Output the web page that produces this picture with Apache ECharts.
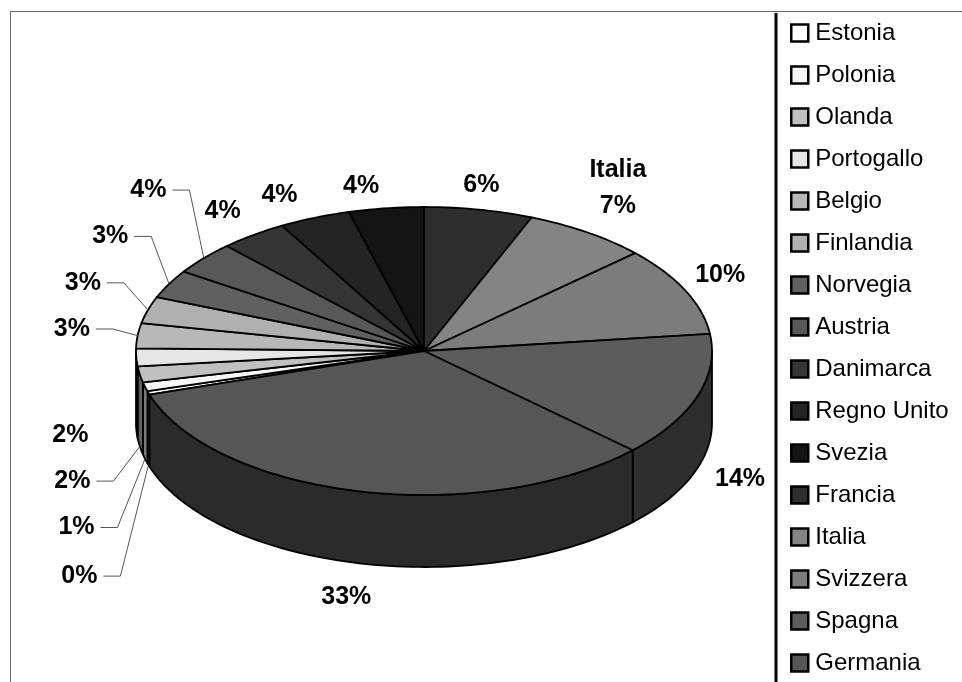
<!doctype html>
<html>
<head>
    <meta charset="UTF-8">
    <title>Ripartizione per paese</title>
    <script src="https://cdn.jsdelivr.net/npm/echarts@6/dist/echarts.min.js"></script>
    <style>
        html, body { margin: 0; padding: 0; background: #fff; }
    </style>
</head>
<body>
<div id="main" style="width: 962px;height:682px;"></div>
<script>
    // dati (quote in %)
    var countries = ['Estonia', 'Polonia', 'Olanda', 'Portogallo', 'Belgio', 'Finlandia', 'Norvegia', 'Austria',
        'Danimarca', 'Regno Unito', 'Svezia', 'Francia', 'Italia', 'Svizzera', 'Spagna', 'Germania'];
    var shares = [0.4, 1.0, 1.8, 2.0, 2.8, 3.0, 3.2, 3.7, 3.8, 4.0, 4.2, 6.1, 7.0, 10.0, 14.0, 33.0];

    // colori in scala di grigi (faccia superiore)
    var topColors = ['#ffffff', '#f6f6f6', '#c0c0c0', '#e6e6e6', '#b8b8b8', '#b0b0b0', '#606060', '#585858',
        '#353535', '#242424', '#141414', '#2e2e2e', '#848484', '#7c7c7c', '#5c5c5c', '#565656'];

    // aspetto 3D
    var cx = 424, cy = 351, rx = 288, ry = 144, depth = 72;
    var total = shares.reduce(function (a, b) { return a + b; }, 0);
    // Francia parte da ore 12
    var startAngle = -shares.slice(0, 11).reduce(function (a, b) { return a + b; }, 0) / total * 360;
    var cum = [];
    shares.reduce(function (acc, v, i) { cum[i] = acc; return acc + v; }, 0);

    // spostamenti delle etichette (come nel grafico Excel) e linee guida
    var labelNudge = [[-26, 101], [-25, 60], [-23, 29], [-21, 4], [-21, -4], [-22, -20], [-19, -36], [-21, -52],
        [-4, -4], [-18, 0], [-19, 3], [-6, 0], [5, -6], [-6, -5], [0, 0], [-3, 0]];
    var withLeader = ['Estonia', 'Polonia', 'Olanda', 'Belgio', 'Finlandia', 'Norvegia', 'Austria'];
    var withName = ['Italia'];

    function shade(hex, k) {
        var n = parseInt(hex.slice(1), 16);
        var r = Math.round(((n >> 16) & 255) * k), g = Math.round(((n >> 8) & 255) * k), b = Math.round((n & 255) * k);
        return 'rgb(' + r + ',' + g + ',' + b + ')';
    }
    function pt(deg, dy) {
        var a = deg * Math.PI / 180;
        return [cx + rx * Math.sin(a), cy - ry * Math.cos(a) + (dy || 0)];
    }
    function arc(d0, d1, dy) {
        var out = [], n = Math.max(2, Math.ceil(Math.abs(d1 - d0) / 1.5));
        for (var k = 0; k <= n; k++) out.push(pt(d0 + (d1 - d0) * k / n, dy));
        return out;
    }

    function renderSlice(params, api) {
        var i = params.seriesIndex;
        var val = api.value(0);
        var a0 = startAngle + cum[i] / total * 360;
        var a1 = a0 + val / total * 360;
        var children = [];
        var edge = {stroke: '#000', lineWidth: 1.8, lineJoin: 'round'};

        // parete laterale visibile (meta' anteriore)
        [[90, 270], [-270, -90], [450, 630]].forEach(function (r) {
            var s = Math.max(a0, r[0]), e = Math.min(a1, r[1]);
            if (e - s > 0.01) {
                var pts = arc(s, e, 0).concat(arc(e, s, depth));
                children.push({
                    type: 'polygon', shape: {points: pts},
                    style: Object.assign({fill: shade(topColors[i], 0.5)}, edge)
                });
            }
        });

        // faccia superiore
        children.push({
            type: 'polygon', shape: {points: [[cx, cy]].concat(arc(a0, a1, 0))},
            style: Object.assign({fill: topColors[i]}, edge)
        });

        // etichetta
        var mid = (a0 + a1) / 2, m = mid * Math.PI / 180;
        var s = Math.sin(m), c = Math.cos(m);
        var lx = cx + (rx + 45) * s;
        var ly = c >= 0 ? cy - (ry + 25) * c : cy - (ry + 35) * c + depth;
        lx += labelNudge[i][0];
        ly += labelNudge[i][1];
        var pct = Math.round(val / total * 100) + '%';
        var name = countries[i];
        var txt = withName.indexOf(name) >= 0 ? name + '\n' + pct : pct;
        var lines = txt.split('\n').length;
        children.push({
            type: 'text',
            style: {
                text: txt, x: lx, y: ly - (lines - 1) * 18, align: 'center', verticalAlign: 'middle',
                font: 'bold 25px "Liberation Sans", Arial, sans-serif', fill: '#000', lineHeight: 36
            }
        });
        if (withLeader.indexOf(name) >= 0) {
            var tip = c >= 0 ? pt(mid, 0) : pt(mid, depth);
            children.push({
                type: 'polyline',
                shape: {points: [[lx + 24, ly], [lx + 41, ly], tip]},
                style: {stroke: '#555', lineWidth: 1, fill: null}
            });
        }
        return {type: 'group', children: children};
    }

    var series = countries.map(function (name, i) {
        return {
            type: 'custom',
            name: name,
            coordinateSystem: 'none',
            silent: true,
            itemStyle: {color: topColors[i]},
            renderItem: renderSlice,
            data: [[shares[i]]]
        };
    });

    var myChart = echarts.init(document.getElementById('main'));
    var option = {
        animation: false,
        backgroundColor: '#fff',
        legend: {
            orient: 'vertical',
            left: 790,
            top: 21,
            padding: 0,
            icon: 'rect',
            itemWidth: 17,
            itemHeight: 17,
            itemGap: 18,
            selectedMode: false,
            itemStyle: {borderColor: '#000', borderWidth: 2.5},
            textStyle: {fontSize: 24, lineHeight: 24, color: '#000', fontFamily: '"Liberation Sans", Arial, sans-serif', padding: [0, 0, 0, 2]},
            data: countries
        },
        graphic: [
            {type: 'line', shape: {x1: 10, y1: 11.5, x2: 962, y2: 11.5}, style: {stroke: '#666', lineWidth: 1}},
            {type: 'line', shape: {x1: 10.5, y1: 11, x2: 10.5, y2: 682}, style: {stroke: '#666', lineWidth: 1}},
            {type: 'line', shape: {x1: 776, y1: 13, x2: 776, y2: 682}, style: {stroke: '#000', lineWidth: 3}}
        ],
        series: series
    };
    myChart.setOption(option);
</script>
</body>
</html>
